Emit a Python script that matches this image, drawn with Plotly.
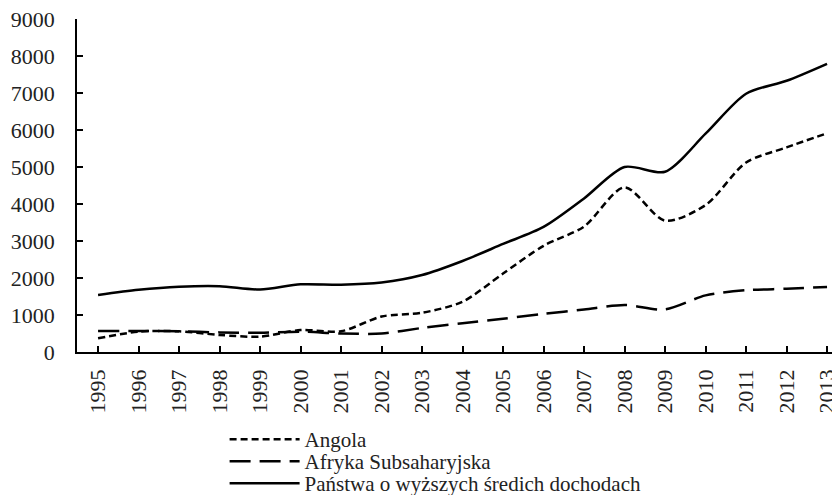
import plotly.graph_objects as go

years = list(range(1995, 2014))
angola = [370, 550, 560, 460, 415, 595, 560, 960, 1060, 1360, 2120, 2870, 3390, 4450, 3550, 3970, 5120, 5530, 5910]
afryka = [570, 570, 560, 530, 520, 550, 500, 500, 650, 780, 900, 1030, 1150, 1270, 1150, 1530, 1670, 1710, 1760]
panstwa = [1540, 1680, 1765, 1780, 1690, 1830, 1820, 1880, 2080, 2460, 2920, 3380, 4150, 5000, 4870, 5900, 6980, 7330, 7790]

names = ["Angola", "Afryka Subsaharyjska", "Państwa o wyższych średich dochodach"]
font = "Liberation Serif"

# the page body adds an 8px offset; layout numbers compensate for it
OFF = 8
W, H = 840, 495

fig = go.Figure()
fig.add_trace(go.Scatter(x=years, y=angola, name=names[0], mode="lines", legend="legend",
                         line=dict(color="black", width=2.5, dash="7px,4px", shape="spline", smoothing=0.8)))
fig.add_trace(go.Scatter(x=years, y=afryka, name=names[1], mode="lines", legend="legend2",
                         line=dict(color="black", width=2.5, dash="21px,9px", shape="spline", smoothing=0.8)))
fig.add_trace(go.Scatter(x=years, y=panstwa, name=names[2], mode="lines", legend="legend3",
                         line=dict(color="black", width=2.5, shape="spline", smoothing=0.8)))

leg_common = dict(xref="container", yref="container", x=216.6 / W, xanchor="left", yanchor="middle",
                  font=dict(family=font, size=21, color="#222"), itemwidth=70,
                  bgcolor="rgba(0,0,0,0)")
fig.update_layout(
    width=W, height=H,
    margin=dict(l=77 - OFF, r=OFF, t=19 - OFF, b=H - (352 - OFF), autoexpand=False),
    plot_bgcolor="white", paper_bgcolor="white",
    font=dict(family=font, size=22, color="#222"),
    showlegend=True,
    legend=dict(y=1 - (439.5 - OFF) / H, **leg_common),
    legend2=dict(y=1 - (461.5 - OFF) / H, **leg_common),
    legend3=dict(y=1 - (483.5 - OFF) / H, **leg_common),
)
fig.update_xaxes(
    range=[1994.48, 2013.32], tickmode="array", tickvals=years,
    ticktext=[str(y) for y in years], tickangle=-90,
    ticks="inside", ticklen=6, tickcolor="black", tickwidth=1.5,
    showline=True, linecolor="black", linewidth=1.5,
    showgrid=False, zeroline=False, automargin=False, ticklabelstandoff=7,
    ticklabeloverflow="allow",
)
fig.update_yaxes(
    range=[0, 9000], tickvals=list(range(0, 9001, 1000)),
    ticks="inside", ticklen=6, tickcolor="black", tickwidth=1.5,
    showline=True, linecolor="black", linewidth=1.5,
    showgrid=False, zeroline=False, ticklabelstandoff=16, automargin=False,
    ticklabeloverflow="allow",
)

fig.write_html("out.html")
